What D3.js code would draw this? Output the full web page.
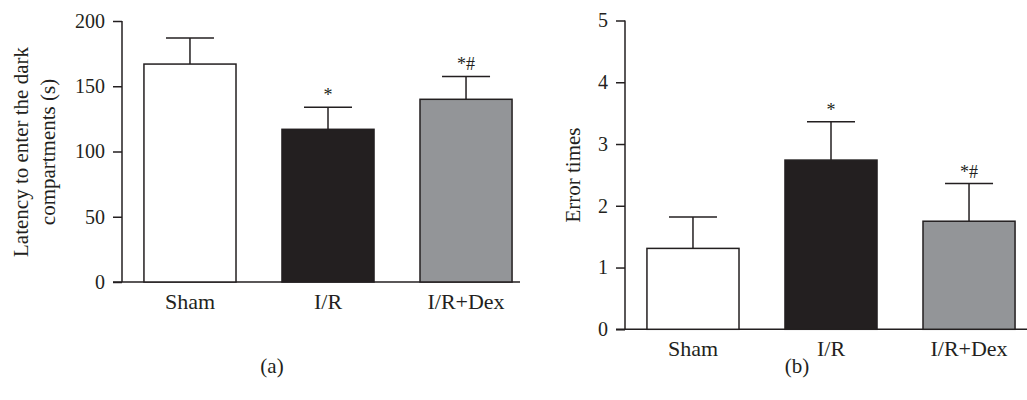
<!DOCTYPE html>
<html>
<head>
<meta charset="utf-8">
<style>
body { margin: 0; background: #fff; }
svg { display: block; }
text { font-family: "Liberation Serif", "Times New Roman", serif; fill: #231f20; }
.axis path, .axis line { stroke: #231f20; stroke-width: 1.5; }
.axis text { font-size: 20px; }
.xaxis text { font-size: 22px; }
.bar { stroke: #231f20; stroke-width: 1.5; }
.err { stroke: #231f20; stroke-width: 1.5; fill: none; }
</style>
</head>
<body>
<svg id="thevis" width="1027" height="400"></svg>
<script src="https://cdn.jsdelivr.net/npm/d3@7"></script>
<script>
// data
var groups = ["Sham", "I/R", "I/R+Dex"];
var fills = ["#ffffff", "#231f20", "#939598"];

var latencyMean = [167, 117, 140];
var latencyErr = [20, 17, 17.5];
var latencyMarks = ["", "*", "*#"];
var latencyTicks = [0, 50, 100, 150, 200];

var errorMean = [1.31, 2.74, 1.75];
var errorErr = [0.51, 0.62, 0.61];
var errorMarks = ["", "*", "*#"];
var errorTicks = [0, 1, 2, 3, 4, 5];

var svg = d3.select("svg");

function panel(opt) {
  var g = svg.append("g");

  var x = d3.scaleBand()
      .domain(groups)
      .range([opt.left, opt.left + 412])
      .paddingInner(0.333)
      .paddingOuter(0.159);
  var y = d3.scaleLinear()
      .domain([0, opt.max])
      .range([opt.bottom, opt.top]);

  // y axis
  var ya = g.append("g")
      .attr("class", "axis")
      .attr("transform", "translate(" + opt.left + ",0)")
      .call(d3.axisLeft(y).tickValues(opt.ticks).tickFormat(d3.format("d"))
        .tickSize(9).tickPadding(8).tickSizeOuter(0));
  ya.select(".domain").attr("d", "M0," + opt.bottom + "V" + opt.top);

  // x axis (no ticks)
  var xa = g.append("g")
      .attr("class", "axis xaxis")
      .attr("transform", "translate(0," + opt.bottom + ")")
      .call(d3.axisBottom(x).tickSize(0).tickPadding(11));
  xa.select(".domain").attr("d", "M" + (opt.left - 9) + ",0H" + opt.axisEnd);

  // error bars
  var eb = g.selectAll(".errg")
    .data(groups)
    .enter().append("g");
  eb.append("line")
      .attr("class", "err")
      .attr("x1", function(d) { return x(d) + x.bandwidth() / 2; })
      .attr("x2", function(d) { return x(d) + x.bandwidth() / 2; })
      .attr("y1", function(d, i) { return y(opt.mean[i]); })
      .attr("y2", function(d, i) { return y(opt.mean[i] + opt.err[i]); });
  eb.append("line")
      .attr("class", "err")
      .attr("x1", function(d) { return x(d) + x.bandwidth() / 2 - 24; })
      .attr("x2", function(d) { return x(d) + x.bandwidth() / 2 + 24; })
      .attr("y1", function(d, i) { return y(opt.mean[i] + opt.err[i]); })
      .attr("y2", function(d, i) { return y(opt.mean[i] + opt.err[i]); });

  // bars
  g.selectAll(".bar")
    .data(groups)
    .enter().append("rect")
      .attr("class", "bar")
      .attr("x", function(d) { return x(d); })
      .attr("width", x.bandwidth())
      .attr("y", function(d, i) { return y(opt.mean[i]); })
      .attr("height", function(d, i) { return opt.bottom - y(opt.mean[i]); })
      .attr("fill", function(d, i) { return fills[i]; });

  // significance marks
  g.selectAll(".mark")
    .data(groups)
    .enter().append("text")
      .attr("x", function(d) { return x(d) + x.bandwidth() / 2; })
      .attr("y", function(d, i) { return y(opt.mean[i] + opt.err[i]) - 6; })
      .attr("text-anchor", "middle")
      .style("font-size", "18px")
      .text(function(d, i) { return opt.marks[i]; });

  // y label
  var lab = g.append("text")
      .attr("transform", "translate(" + opt.labelX + "," + opt.labelY + ") rotate(-90)")
      .attr("text-anchor", "middle")
      .style("font-size", "21px");
  opt.label.forEach(function(s, i) {
    lab.append("tspan")
      .attr("x", 0)
      .attr("dy", i === 0 ? 0 : 27)
      .text(s);
  });

  // panel letter
  g.append("text")
      .attr("x", opt.letterX)
      .attr("y", 373)
      .attr("text-anchor", "middle")
      .style("font-size", "21px")
      .text(opt.letter);
}

panel({
  left: 122, top: 21, bottom: 282, axisEnd: 520, max: 200,
  ticks: latencyTicks, mean: latencyMean, err: latencyErr, marks: latencyMarks,
  label: ["Latency to enter the dark", "compartments (s)"], labelX: 28, labelY: 152,
  letter: "(a)", letterX: 272
});

panel({
  left: 625, top: 20.5, bottom: 329.3, axisEnd: 1027, max: 5,
  ticks: errorTicks, mean: errorMean, err: errorErr, marks: errorMarks,
  label: ["Error times"], labelX: 580, labelY: 175,
  letter: "(b)", letterX: 797
});
</script>
</body>
</html>
